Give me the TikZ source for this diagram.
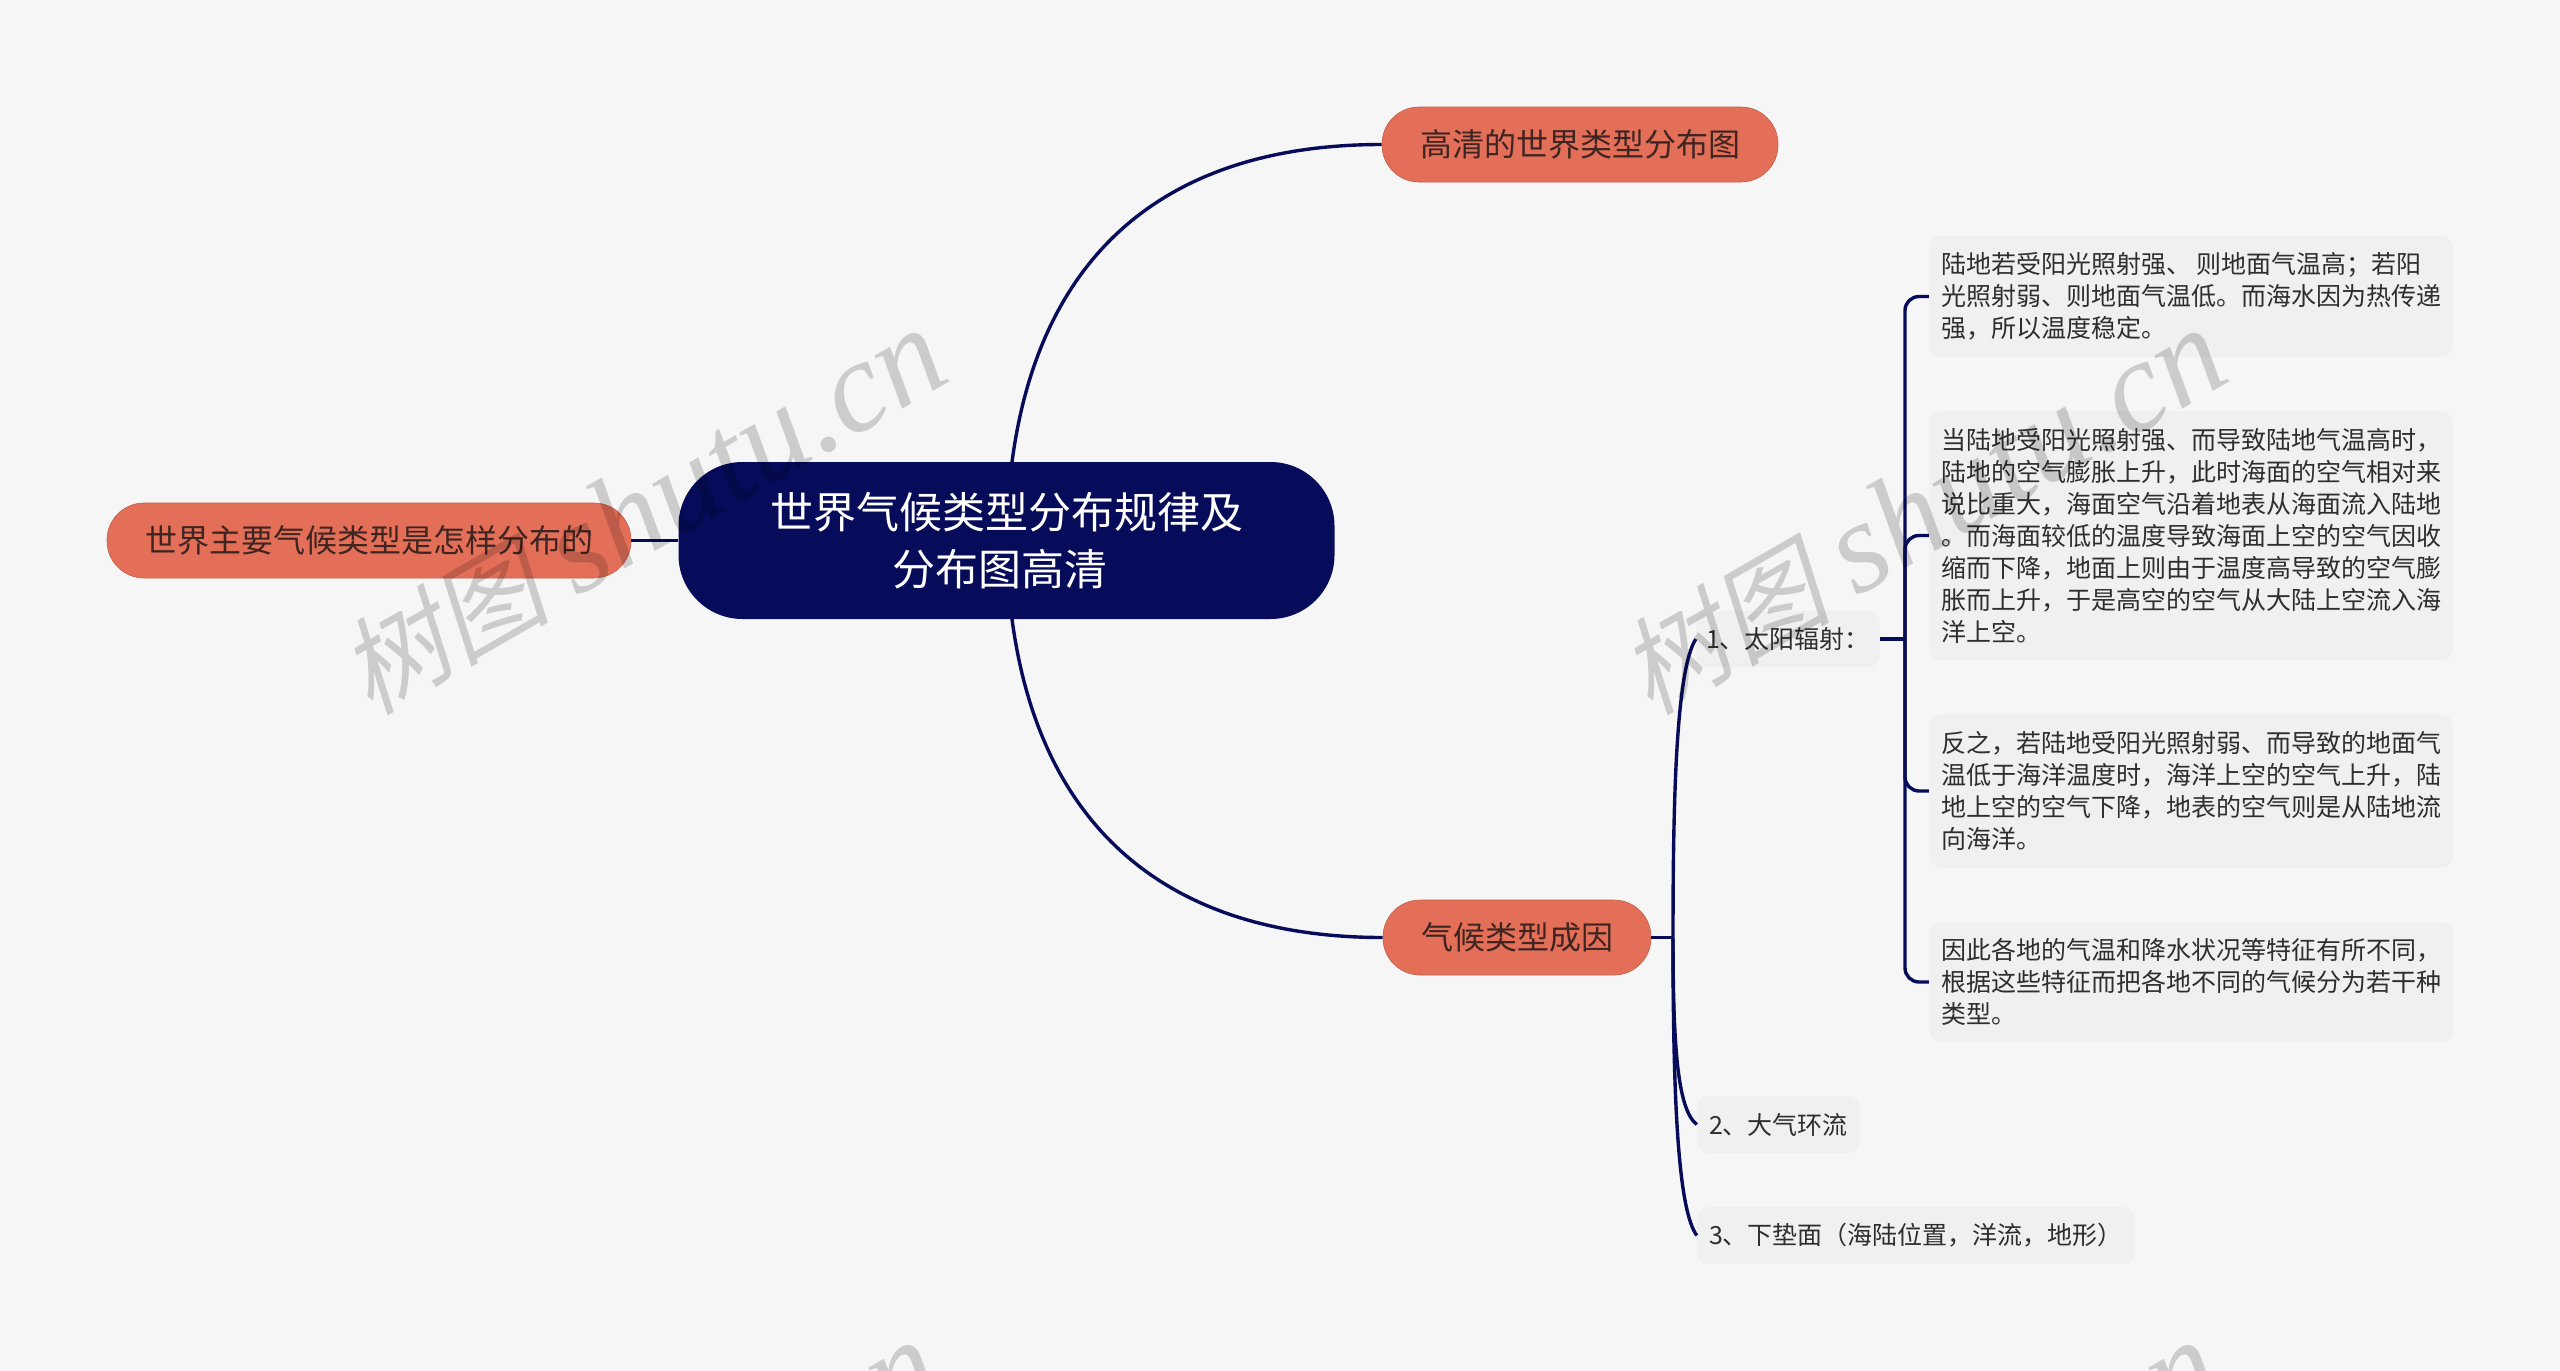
\documentclass[tikz,border=0pt]{standalone}
\usepackage{fontspec}
\setmainfont{Noto Sans CJK SC}
\newfontfamily\wmcjk[FakeSlant=0.22]{Noto Sans CJK SC}
\newfontfamily\wmlat{Liberation Serif}
\definecolor{pagebg}{HTML}{F6F6F6}
\definecolor{navy}{HTML}{060B5A}
\definecolor{salmon}{HTML}{E46F58}
\definecolor{boxbg}{HTML}{F0F0F0}
\definecolor{inksoft}{HTML}{2E2E2E}
\definecolor{inkbrown}{HTML}{3F2522}
\newcommand{\wmtext}{{\fontsize{106}{130}\selectfont\wmcjk 树图}\hspace{26pt}{\fontsize{130}{130}\selectfont\wmlat\itshape shutu.cn}}
\tikzset{
  link/.style={draw=navy,line width=3.4pt},
  root/.style={fill=navy,text=white,rounded corners=64pt,inner sep=0pt,align=center,font=\fontsize{43}{57}\selectfont},
  topic/.style={fill=salmon,draw=salmon!85!black,line width=.6pt,text=inkbrown,rounded corners=37pt,inner sep=0pt,font=\fontsize{32}{40}\selectfont},
  detail/.style={fill=boxbg,text=inksoft,rounded corners=12pt,inner sep=0pt,align=left,font=\fontsize{25}{32}\selectfont},
  wmark/.style={text=black,text opacity=.17,rotate=30,inner sep=0pt}
}
\begin{document}
\begin{tikzpicture}[x=1pt,y=-1pt]
\useasboundingbox (0,0) rectangle (2560,1371);
\fill[pagebg] (0,0) rectangle (2560,1371);
% nodes
\node[root,minimum width=656pt,minimum height=157pt] (center) at (1006.5,540.5) {世界气候类型分布规律及\\分布图高清\hspace*{13pt}};
\node[topic,minimum width=396pt,minimum height=75pt] (t1) at (1580,144.5) {高清的世界类型分布图};
\node[topic,minimum width=524pt,minimum height=75pt] (t2) at (369,540.5) {世界主要气候类型是怎样分布的};
\node[topic,minimum width=268pt,minimum height=75pt] (t3) at (1517,937.5) {气候类型成因};
\node[detail,minimum width=184pt,minimum height=56pt] (s1) at (1788,639) {1、太阳辐射：};
\node[detail,minimum width=163pt,minimum height=57pt] (s2) at (1778.5,1124.5) {2、大气环流};
\node[detail,minimum width=438pt,minimum height=57pt] (s3) at (1916,1235.5) {3、下垫面（海陆位置，洋流，地形）};
\node[detail,minimum width=524pt,minimum height=121pt] (d1) at (2191,296.5) {陆地若受阳光照射强、 则地面气温高；若阳\\光照射弱、则地面气温低。而海水因为热传递\\强，所以温度稳定。};
\node[detail,minimum width=524pt,minimum height=249pt] (d2) at (2191,535.5) {当陆地受阳光照射强、而导致陆地气温高时，\\陆地的空气膨胀上升，此时海面的空气相对来\\说比重大，海面空气沿着地表从海面流入陆地\\。而海面较低的温度导致海面上空的空气因收\\缩而下降，地面上则由于温度高导致的空气膨\\胀而上升，于是高空的空气从大陆上空流入海\\洋上空。};
\node[detail,minimum width=524pt,minimum height=153pt] (d3) at (2191,791) {反之，若陆地受阳光照射弱、而导致的地面气\\温低于海洋温度时，海洋上空的空气上升，陆\\地上空的空气下降，地表的空气则是从陆地流\\向海洋。};
\node[detail,minimum width=524pt,minimum height=120pt] (d4) at (2191,982) {因此各地的气温和降水状况等特征有所不同，\\根据这些特征而把各地不同的气候分为若干种\\类型。};
% connectors
\coordinate (cTop) at (1012,462);
\coordinate (cBot) at (1012,619);
\coordinate (trunkA) at (1673,937.5);
\coordinate (trunkB) at (1905,639);
\draw[link] (cTop) .. controls (1040,250) and (1170,144.5) .. (t1.west);
\draw[link] (cBot) .. controls (1040,830) and (1170,937.5) .. (t3.west);
\draw[link] (t2.east) -- (t2.east -| center.west);
\draw[link] (t3.east) -- (trunkA);
\draw[link] (trunkA) .. controls (1673,800) and (1676,670) .. (s1.west);
\draw[link] (trunkA) .. controls (1673,1050) and (1678,1110) .. (s2.west);
\draw[link] (trunkA) .. controls (1673,1100) and (1678,1210) .. (s3.west);
\draw[link] (s1.east) -- (trunkB);
\draw[link,rounded corners=14pt] (trunkB) |- (d1.west);
\draw[link,rounded corners=14pt] (trunkB) |- (d2.west);
\draw[link,rounded corners=14pt] (trunkB) |- (d3.west);
\draw[link,rounded corners=14pt] (trunkB) |- (d4.west);
% watermarks
\node[wmark] (w1) at (642,512) {\wmtext};
\node[wmark] (w2) at (1922,512) {\wmtext};
\node[wmark] (w3) at (636,1524) {\wmtext};
\node[wmark] (w4) at (1916,1524) {\wmtext};
\end{tikzpicture}
\end{document}
